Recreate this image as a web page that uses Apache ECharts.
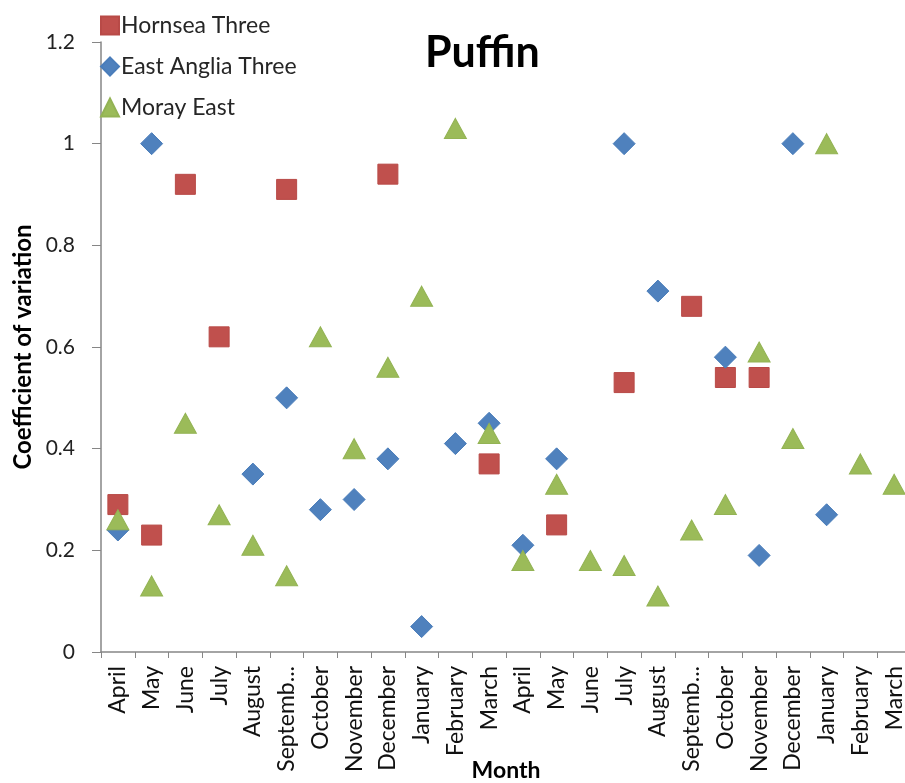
<!DOCTYPE html>
<html>
<head>
<meta charset="utf-8">
<script src="https://cdn.jsdelivr.net/npm/echarts@6/dist/echarts.min.js"></script>
<style>
html,body{margin:0;padding:0;background:#fff;}
#chart{width:905px;height:783px;}
</style>
</head>
<body>
<div id="chart"></div>
<script>
var months = ['April','May','June','July','August','September','October','November','December','January','February','March',
              'April','May','June','July','August','September','October','November','December','January','February','March'];
var hornseaThree = [0.29,0.23,0.92,0.62,null,0.91,null,null,0.94,null,null,0.37,
                    null,0.25,null,0.53,null,0.68,0.54,0.54,null,null,null,null];
var eastAngliaThree = [0.24,1.00,null,null,0.35,0.50,0.28,0.30,0.38,0.05,0.41,0.45,
                       0.21,0.38,null,1.00,0.71,null,0.58,0.19,1.00,0.27,null,null];
var morayEast = [0.26,0.13,0.45,0.27,0.21,0.15,0.62,0.40,0.56,0.70,1.03,0.43,
                 0.18,0.33,0.18,0.17,0.11,0.24,0.29,0.59,0.42,1.00,0.37,0.33];
var yTicks = {min:0, max:1.2, interval:0.2};

var FONT = 'Lato';
var chart = echarts.init(document.getElementById('chart'), null, {renderer:'canvas'});
var axisColor = '#868686';
chart.setOption({
  animation:false,
  backgroundColor:'#ffffff',
  textStyle:{fontFamily:FONT},
  title:{
    text:'Puffin', left:420, top:27,
    textStyle:{fontFamily:FONT, fontWeight:'bold', fontSize:43, color:'#000'}
  },
  legend:{
    orient:'vertical', left:95, top:9, itemGap:18,
    itemWidth:18, itemHeight:18,
    textStyle:{fontFamily:FONT, fontSize:23, color:'#262626', padding:[0,0,0,-3]},
    data:['Hornsea Three','East Anglia Three','Moray East']
  },
  grid:{left:101, right:-6, top:42, bottom:131, containLabel:false, outerBoundsMode:'none'},
  xAxis:{
    type:'category', data:months, boundaryGap:true,
    name:'Month', nameLocation:'middle', nameGap:107, nameMoveOverlap:false,
    nameTextStyle:{fontFamily:FONT, fontWeight:'bold', fontSize:23, color:'#000'},
    axisLine:{lineStyle:{color:axisColor, width:1.5}},
    axisTick:{show:true, length:6, lineStyle:{color:axisColor}, interval:0},
    axisLabel:{rotate:90, interval:0, margin:14, fontSize:23, color:'#111', fontFamily:FONT,
      formatter:function(v){ return v.length>8 ? v.slice(0,7)+'...' : v; }},
    splitLine:{show:false}
  },
  yAxis:{
    type:'value', min:yTicks.min, max:yTicks.max, interval:yTicks.interval,
    name:'Coefficient of variation', nameLocation:'middle', nameGap:66, nameRotate:90, nameMoveOverlap:false,
    nameTextStyle:{fontFamily:FONT, fontWeight:'bold', fontSize:24, color:'#000'},
    axisLine:{show:true, lineStyle:{color:axisColor, width:1.5}},
    axisTick:{show:true, length:9, lineStyle:{color:axisColor}},
    axisLabel:{margin:26, fontSize:21, color:'#222', fontFamily:FONT,
      formatter:function(v){ return String(Math.round(v*10)/10); }},
    splitLine:{show:false}
  },
  series:[
    {name:'Hornsea Three', type:'scatter', data:hornseaThree, symbol:'rect', symbolSize:20,
     itemStyle:{color:'#C0504D', borderColor:'#B84A47', borderWidth:1, opacity:1}},
    {name:'East Anglia Three', type:'scatter', data:eastAngliaThree, symbol:'diamond', symbolSize:22,
     itemStyle:{color:'#4F81BD', borderColor:'#4A7DBA', borderWidth:1, opacity:1}},
    {name:'Moray East', type:'scatter', data:morayEast, symbol:'triangle', symbolSize:[22,20],
     itemStyle:{color:'#9BBB59', borderColor:'#93B354', borderWidth:1, opacity:1}}
  ]
});
</script>
</body>
</html>
